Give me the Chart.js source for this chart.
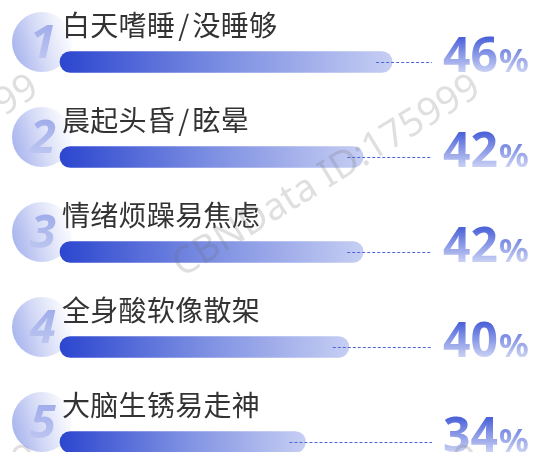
<!DOCTYPE html>
<html><head><meta charset="utf-8">
<script src="https://cdn.jsdelivr.net/npm/chart.js@4/dist/chart.umd.min.js"></script>
<style>html,body{margin:0;padding:0;background:#fff;overflow:hidden}#wrap{width:536px;height:452px;position:relative}</style>
</head><body><div id="wrap"><canvas id="c" width="536" height="452"></canvas></div>
<script>
const categories = ['白天嗜睡/没睡够','晨起头昏/眩晕','情绪烦躁易焦虑','全身酸软像散架','大脑生锈易走神'];
const values = [46, 42, 42, 40, 34];
const ranks = ['1','2','3','4','5'];
const valueLabels = ['46','42','42','40','34'];
const unit = '%';
const watermarkText = 'CBNData ID:175999';

function drawLabel(ctx, text, x, y) {
  // draw character by character so the slash gets a little extra room
  let cx = x;
  for (const ch of text) {
    const pad = ch === '/' ? 3 : 0;
    cx += pad;
    ctx.fillText(ch, cx, y);
    cx += ctx.measureText(ch).width + pad + 0.3;
  }
}

const decorPlugin = {
  id: 'decor',
  beforeDatasetsDraw(chart) {
    const ctx = chart.ctx;
    const meta = chart.getDatasetMeta(0);
    meta.data.forEach((bar, i) => {
      const cy = bar.y - 20, cx = 42, r = 30;
      ctx.save();
      const g = ctx.createLinearGradient(cx - r, cy + r * 0.3, cx + r, cy - r * 0.3);
      g.addColorStop(0, '#a8b4ee');
      g.addColorStop(0.5, '#d9def7');
      g.addColorStop(1, '#ffffff');
      ctx.fillStyle = g;
      ctx.beginPath(); ctx.arc(cx, cy, r, 0, Math.PI * 2); ctx.fill();
      ctx.font = 'italic bold 47px "Noto Sans", "DejaVu Sans", sans-serif';
      ctx.textAlign = 'center';
      ctx.textBaseline = 'alphabetic';
      const ng = ctx.createLinearGradient(0, cy - 17, 0, cy + 16);
      ng.addColorStop(0, '#a1adea');
      ng.addColorStop(1, '#bcc5f0');
      ctx.fillStyle = ng;
      ctx.fillText(ranks[i], cx + 1, cy + 16);
      ctx.restore();
    });
  },
  afterDatasetsDraw(chart) {
    const ctx = chart.ctx;
    const meta = chart.getDatasetMeta(0);
    meta.data.forEach((bar, i) => {
      const y = bar.y;
      ctx.save();
      // label
      ctx.font = '28px "Noto Sans CJK SC", sans-serif';
      ctx.fillStyle = '#333333';
      ctx.textAlign = 'left';
      ctx.textBaseline = 'middle';
      drawLabel(ctx, categories[i], 62, y - 36.5);
      // dashed leader
      ctx.strokeStyle = '#4d65db';
      ctx.lineWidth = 1;
      ctx.setLineDash([3, 2]);
      ctx.beginPath();
      ctx.moveTo(bar.x - 16, Math.round(y) + 0.5);
      ctx.lineTo(432, Math.round(y) + 0.5);
      ctx.stroke();
      ctx.setLineDash([]);
      // value
      const base = y + 10;
      const vg = ctx.createLinearGradient(0, base - 35, 0, base);
      vg.addColorStop(0, '#4960d8');
      vg.addColorStop(1, '#cad1f4');
      ctx.fillStyle = vg;
      ctx.textBaseline = 'alphabetic';
      ctx.font = 'bold 48px "Noto Sans", sans-serif';
      ctx.fillText(valueLabels[i], 443, base);
      const w = ctx.measureText(valueLabels[i]).width;
      ctx.font = 'bold 33px "Noto Sans", sans-serif';
      ctx.fillText(unit, 443 + w + 1, base);
      ctx.restore();
    });
  },
  afterDraw(chart) {
    const ctx = chart.ctx;
    const offsets = [[0, 0], [-442, 0], [0, 370], [-442, 370]];
    ctx.save();
    ctx.font = '38px "Noto Sans", sans-serif';
    ctx.fillStyle = 'rgba(110,110,110,0.22)';
    ctx.textBaseline = 'alphabetic';
    ctx.textAlign = 'left';
    offsets.forEach(([dx, dy]) => {
      ctx.save();
      ctx.translate(182 + dx, 278 + dy);
      ctx.rotate(-31.5 * Math.PI / 180);
      ctx.fillText(watermarkText, 0, 0);
      ctx.restore();
    });
    ctx.restore();
  }
};

new Chart(document.getElementById('c'), {
  type: 'bar',
  data: {
    labels: categories,
    datasets: [{
      data: values,
      barThickness: 21,
      borderRadius: 11,
      borderSkipped: false,
      clip: false,
      backgroundColor: (c) => {
        const chart = c.chart;
        if (!chart.chartArea || c.raw === undefined) return '#4a63d8';
        const x0 = chart.scales.x.getPixelForValue(0);
        const x1 = chart.scales.x.getPixelForValue(c.raw);
        const g = chart.ctx.createLinearGradient(x0, 0, x1, 0);
        g.addColorStop(0, '#2c46cf');
        g.addColorStop(0.5, '#7d8fe2');
        g.addColorStop(1, '#c6cef3');
        return g;
      }
    }]
  },
  options: {
    indexAxis: 'y',
    responsive: false,
    animation: false,
    devicePixelRatio: 1,
    layout: { padding: { left: 60, right: 115, top: 62, bottom: 10 } },
    plugins: { legend: { display: false }, tooltip: { enabled: false } },
    scales: {
      x: { display: false, min: 0, max: 50 },
      y: { display: false, offset: false, grid: { display: false } }
    }
  },
  plugins: [decorPlugin]
});
</script>
</body></html>
